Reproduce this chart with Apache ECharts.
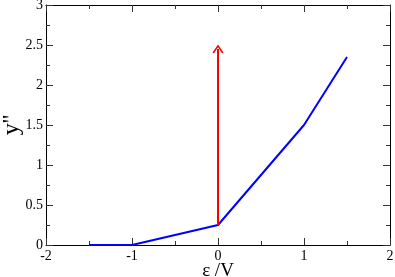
<!DOCTYPE html>
<html><head><meta charset="utf-8">
<script src="https://cdn.jsdelivr.net/npm/echarts@6/dist/echarts.min.js"></script>
<style>html,body{margin:0;padding:0;background:#fff}#c{width:395px;height:277px}</style>
</head><body><div id="c"></div>
<script>
const xTicks = [-2, -1, 0, 1, 2];
const yTicks = [0, 0.5, 1, 1.5, 2, 2.5, 3];
const blueX = [-1.5, -1, 0, 1, 1.5];
const blueY = [0, 0, 0.25, 1.5, 2.35];
const arrowX = [0, 0];
const arrowY = [0.25, 2.45];

const font = 'Liberation Serif';
const chart = echarts.init(document.getElementById('c'), null, {renderer: 'canvas'});
const axisLine = {show: true, onZero: false, lineStyle: {color: '#000', width: 1}};
const tick = {show: true, inside: true, length: 7, lineStyle: {color: '#333'}};
const minor = {show: true, splitNumber: 2, length: 4, lineStyle: {color: '#333'}};
function fmt(v){ return String(v); }
chart.setOption({
  animation: false,
  grid: {left: 46, right: 5, top: 5, bottom: 32, outerBoundsMode: 'none', containLabel: false},
  xAxis: [{
    type: 'value', min: -2, max: 2, interval: 1, position: 'bottom',
    axisLine, axisTick: tick, minorTick: minor, splitLine: {show: false},
    axisLabel: {fontFamily: font, fontSize: 14, color: '#000', margin: 4, formatter: fmt},
    name: 'ε /V', nameLocation: 'middle', nameGap: 17, nameMoveOverlap: false,
    nameTextStyle: {fontFamily: font, fontSize: 19, color: '#000'}
  }, {
    type: 'value', min: -2, max: 2, interval: 1, position: 'top',
    axisLine, axisTick: tick, minorTick: minor, splitLine: {show: false},
    axisLabel: {show: false}
  }],
  yAxis: [{
    type: 'value', min: 0, max: 3, interval: 0.5, position: 'left',
    axisLine, axisTick: tick, minorTick: minor, splitLine: {show: false},
    axisLabel: {fontFamily: font, fontSize: 14, color: '#000', margin: 3, formatter: fmt},
    name: "y''", nameLocation: 'middle', nameGap: 22, nameMoveOverlap: false,
    nameTextStyle: {fontFamily: font, fontSize: 24, color: '#000'}
  }, {
    type: 'value', min: 0, max: 3, interval: 0.5, position: 'right',
    axisLine, axisTick: tick, minorTick: minor, splitLine: {show: false},
    axisLabel: {show: false}
  }],
  series: [{
    type: 'line', data: blueX.map((x, i) => [x, blueY[i]]),
    symbol: 'none', lineStyle: {color: '#0000ff', width: 2}, silent: true
  }, {
    type: 'line', data: [],
    markLine: {
      silent: true, animation: false,
      symbol: ['none', 'path://M5,0 L10,8 L8.8,8.9 L5,2.6 L1.2,8.9 L0,8 Z'],
      symbolSize: [11, 9],
      label: {show: false},
      lineStyle: {color: '#ff0000', width: 2, type: 'solid'},
      data: [[{coord: [arrowX[0], arrowY[0]]}, {coord: [arrowX[1], arrowY[1]]}]]
    }
  }]
});
</script></body></html>
